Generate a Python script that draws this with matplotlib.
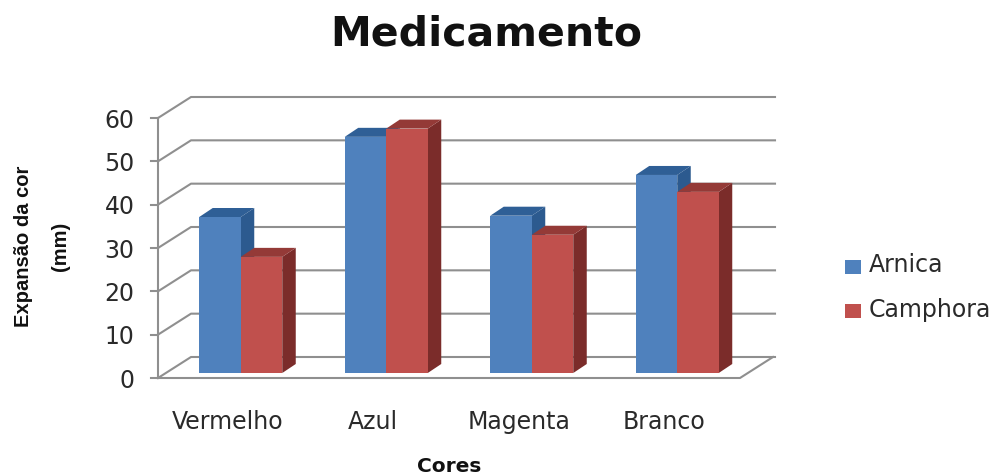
import matplotlib
matplotlib.use("Agg")
import numpy as np
import matplotlib.pyplot as plt
from matplotlib.patches import Polygon, Rectangle

categories = ["Vermelho", "Azul", "Magenta", "Branco"]
arnica = [36, 54.5, 36.3, 45.7]
camphora = [26.8, 56.4, 31.9, 41.8]
yticks = [0, 10, 20, 30, 40, 50, 60]

W, H = 995, 476
fig = plt.figure(figsize=(W / 100, H / 100), dpi=100)
L, R, B, T = 158, 740, 378, 118
ax = fig.add_axes([L / W, 1 - B / H, (R - L) / W, (B - T) / H])
ax.set_xlim(-0.5, 3.5)
ax.set_ylim(0, 60)
for s in ax.spines.values():
    s.set_visible(False)
sx = 4 / (R - L)
sy = 60 / (B - T)
txt = "#2a2a2a"
ax.set_xticks(np.arange(4) - 0.02)
ax.set_xticklabels(categories, fontsize=17, color=txt)
ax.set_yticks(yticks)
ax.set_yticklabels([str(v) for v in yticks], fontsize=17, color=txt)
ax.tick_params(axis="x", length=0, pad=23)
ax.tick_params(axis="y", length=0, pad=17)
ax.patch.set_visible(False)

wall_dx, wall_dy = 33 * sx, 21 * sy
grid = "#8f8f8f"
lw = 1.5
for v in yticks:
    ax.plot([-0.5, -0.5 + wall_dx, 3.5 + wall_dx + 2 * sx],
            [v, v + wall_dy, v + wall_dy], color=grid, lw=lw, clip_on=False, zorder=1)
    ax.plot([-0.5 - 7 * sx, -0.5], [v, v], color=grid, lw=lw, clip_on=False, zorder=1)
ax.plot([-0.5, -0.5], [0, 60], color=grid, lw=lw, clip_on=False, zorder=1)
ax.plot([-0.5, 3.5, 3.5 + wall_dx], [0, 0, wall_dy],
        color=grid, lw=lw, clip_on=False, zorder=1)

bw = 41.5 * sx
off = 10 * sx
bar_dx, bar_dy = 13.5 * sx, 9 * sy
base = 5 * sy
colors = [("#4f81bd", "#2c5a8f", "#2f5f96"), ("#c0504d", "#7b2c2a", "#943a37")]


def bar3d(x, v, cols, z):
    front, side, top = cols
    ax.add_patch(Rectangle((x, base), bw, v, fc=front, ec="none", zorder=z + 1, clip_on=False))
    ax.add_patch(Polygon([(x + bw, base), (x + bw + bar_dx, base + bar_dy),
                          (x + bw + bar_dx, base + v + bar_dy), (x + bw, base + v)],
                         fc=side, ec="none", zorder=z, clip_on=False))
    ax.add_patch(Polygon([(x, base + v), (x + bar_dx, base + v + bar_dy),
                          (x + bw + bar_dx, base + v + bar_dy), (x + bw, base + v)],
                         fc=top, ec="none", zorder=z, clip_on=False))


for i, (a, c) in enumerate(zip(arnica, camphora)):
    bar3d(i - bw + off, a, colors[0], 2 + i * 3)
    bar3d(i + off, c, colors[1], 4 + i * 3)

fig.text(486 / W, 1 - 35 / H, "Medicamento", fontsize=29.5, fontweight="bold",
         ha="center", va="center", color="#111111")
fig.text(449 / W, 1 - 466 / H, "Cores", fontsize=14.5, fontweight="bold",
         ha="center", va="center", color="#111111")
fig.text(42 / W, 1 - 246 / H, "Expansão da cor\n(mm)", fontsize=14.5, fontweight="bold",
         family="Liberation Sans", rotation=90, ha="center", va="center",
         color="#111111", linespacing=2.2)

for y, col, name in [(266.5, colors[0][0], "Arnica"), (310.5, colors[1][0], "Camphora")]:
    fig.patches.append(Rectangle((845 / W, 1 - (y + 7) / H), 16 / W, 14 / H, fc=col, ec="none",
                                 transform=fig.transFigure))
    fig.text(869 / W, 1 - (y - 1) / H, name, fontsize=17, ha="left", va="center", color=txt)

fig.savefig("out.png", dpi=100)
